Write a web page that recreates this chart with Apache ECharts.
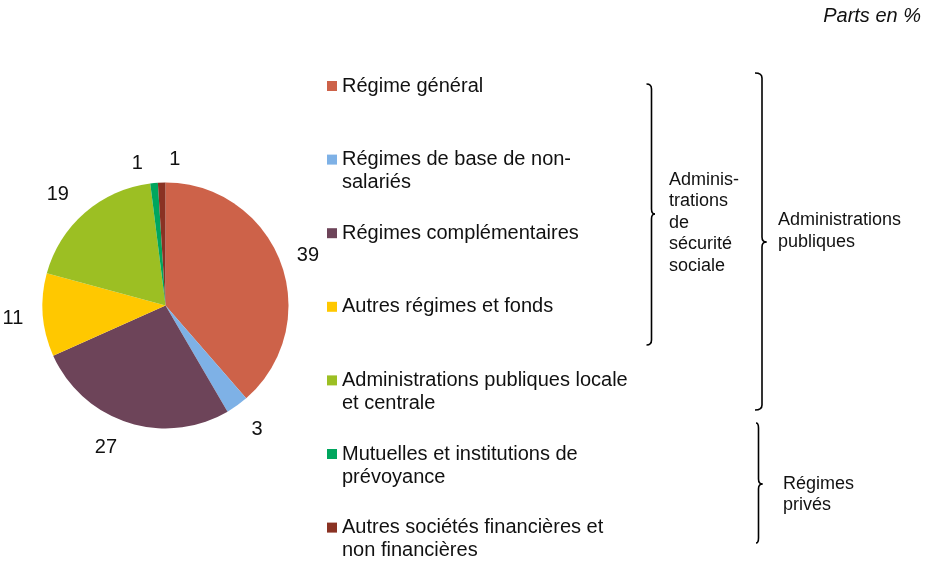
<!DOCTYPE html>
<html>
<head>
<meta charset="utf-8">
<script src="https://cdn.jsdelivr.net/npm/echarts@6/dist/echarts.min.js"></script>
<style>
html,body{margin:0;padding:0;background:#fff;}
#chart{width:929px;height:561px;}
</style>
</head>
<body>
<div id="chart"></div>
<script>
// ---- Data ----
var categories = [
  "Régime général",
  "Régimes de base de non-salariés",
  "Régimes complémentaires",
  "Autres régimes et fonds",
  "Administrations publiques locale et centrale",
  "Mutuelles et institutions de prévoyance",
  "Autres sociétés financières et non financières"
];
var legendLabels = [
  "Régime général",
  "Régimes de base de non-\nsalariés",
  "Régimes complémentaires",
  "Autres régimes et fonds",
  "Administrations publiques locale\net centrale",
  "Mutuelles et institutions de\nprévoyance",
  "Autres sociétés financières et\nnon financières"
];
var values = [39, 3, 27, 11, 19, 1, 1];
var colors = ["#CD6249", "#7EB1E6", "#6D4459", "#FFC800", "#9CBF23", "#00A65E", "#8A3223"];

var unitLabel = "Parts en %";
var groupSecu = "Adminis-\ntrations\nde\nsécurité\nsociale";
var groupAPU = "Administrations\npubliques";
var groupPrive = "Régimes\nprivés";

// ---- Chart ----
var FONT = "'Liberation Sans', Arial, sans-serif";
var chart = echarts.init(document.getElementById('chart'), null, {renderer: 'canvas'});

var pieData = categories.map(function (n, i) {
  return {name: n, value: values[i], itemStyle: {color: colors[i]}};
});
var labelData = categories.map(function (n, i) {
  return {name: n, value: values[i]};
});

var L = 23;
var labelNudge = [[0, 3], [3, 0], [-13, -3], [-1, 1], [-8, 4], [-14, 9], [14, 6]];

var braceStyle = {stroke: '#000', lineWidth: 1.6, fill: 'none'};
function brace(x0, xl, xc, y0, yc, y1) {
  var r = 5;
  return [
    {type: 'bezierCurve', shape: {x1: x0, y1: y0, cpx1: xl, cpy1: y0, x2: xl, y2: y0 + r}, style: braceStyle},
    {type: 'line', shape: {x1: xl, y1: y0 + r, x2: xl, y2: yc - r}, style: braceStyle},
    {type: 'bezierCurve', shape: {x1: xl, y1: yc - r, cpx1: xl, cpy1: yc, x2: xc, y2: yc}, style: braceStyle},
    {type: 'bezierCurve', shape: {x1: xc, y1: yc, cpx1: xl, cpy1: yc, x2: xl, y2: yc + r}, style: braceStyle},
    {type: 'line', shape: {x1: xl, y1: yc + r, x2: xl, y2: y1 - r}, style: braceStyle},
    {type: 'bezierCurve', shape: {x1: xl, y1: y1 - r, cpx1: xl, cpy1: y1, x2: x0, y2: y1}, style: braceStyle}
  ];
}

var graphics = []
  .concat(brace(646.5, 651.5, 655, 84, 214, 345))
  .concat(brace(755, 762, 766.5, 73, 242, 410))
  .concat(brace(756, 758.5, 762.5, 423, 484, 543))
  .concat([
    {type: 'text', x: 669, y: 169,
     style: {text: groupSecu, font: '18px ' + FONT, lineHeight: 21.5, fill: '#111', verticalAlign: 'top'}},
    {type: 'text', x: 778, y: 209,
     style: {text: groupAPU, font: '18px ' + FONT, lineHeight: 22, fill: '#111', verticalAlign: 'top'}},
    {type: 'text', x: 783, y: 474,
     style: {text: groupPrive, font: '18px ' + FONT, lineHeight: 21, fill: '#111', verticalAlign: 'top'}}
  ]);

var option = {
  backgroundColor: '#ffffff',
  animation: false,
  textStyle: {fontFamily: FONT},
  title: {
    text: unitLabel,
    right: 3,
    top: 1,
    textStyle: {fontFamily: FONT, fontSize: 20, fontStyle: 'italic', fontWeight: 'normal', color: '#111'}
  },
  legend: {
    orient: 'vertical',
    left: 327,
    top: 51.5,
    height: 530,
    padding: 0,
    itemWidth: 10,
    itemHeight: 10,
    itemGap: 4.6,
    icon: 'rect',
    selectedMode: false,
    data: categories,
    formatter: function (name) {
      var t = legendLabels[categories.indexOf(name)];
      // three text lines per item so that the square sits on the first text line
      return t.indexOf('\n') >= 0 ? '\n' + t : '\n' + t + '\n';
    },
    textStyle: {fontFamily: FONT, fontSize: 20, lineHeight: L, color: '#111'}
  },
  series: [
    {
      type: 'pie',
      center: [165.5, 305.5],
      radius: [0, 123],
      startAngle: 90,
      clockwise: true,
      data: pieData,
      label: {show: false},
      labelLine: {show: false},
      itemStyle: {borderWidth: 0},
      emphasis: {disabled: true},
      silent: true
    },
    {
      type: 'pie',
      center: [165.5, 305.5],
      radius: [0, 298],
      startAngle: 90,
      clockwise: true,
      data: labelData,
      silent: true,
      z: 5,
      itemStyle: {color: 'rgba(0,0,0,0)', borderWidth: 0},
      emphasis: {disabled: true},
      labelLine: {show: false},
      label: {
        show: true,
        position: 'inside',
        formatter: '{c}',
        fontFamily: FONT,
        fontSize: 20,
        color: '#111'
      },
      labelLayout: function (p) {
        var d = labelNudge[p.dataIndex] || [0, 0];
        return {dx: d[0], dy: d[1]};
      }
    }
  ],
  graphic: graphics
};
chart.setOption(option);
</script>
</body>
</html>
